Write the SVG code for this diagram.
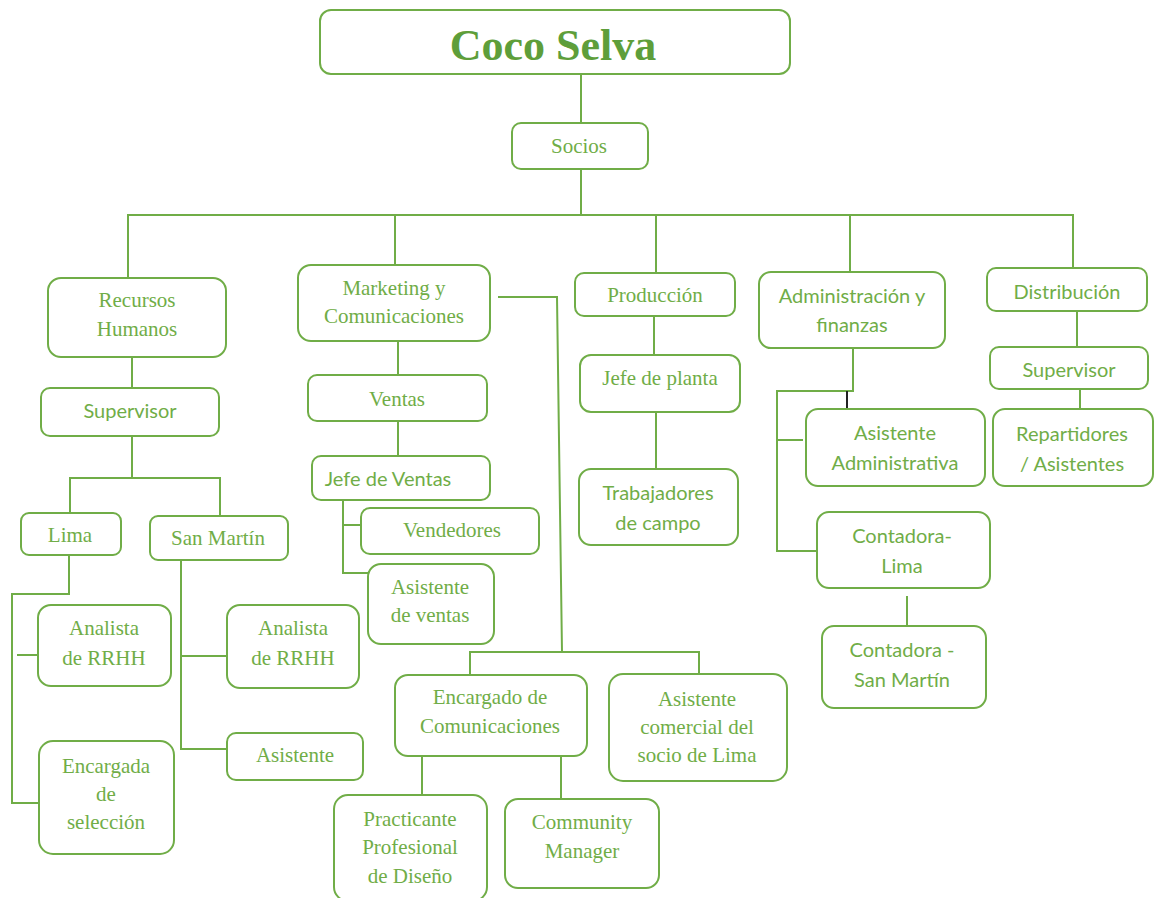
<svg xmlns="http://www.w3.org/2000/svg" width="1154" height="898" viewBox="0 0 1154 898">
<style>
rect{fill:#fff;stroke:#70AD47;stroke-width:2}
.c line,.c polyline{stroke:#70AD47;stroke-width:2;fill:none}
text{text-anchor:middle;fill:#70AD47}
.s{font-family:"Liberation Serif",serif;font-size:21px}
.a{font-family:Lato,"Liberation Sans",sans-serif;font-size:20px}
.t{font-family:"Liberation Serif",serif;font-size:44px;font-weight:bold;fill:#5E9E3A}
</style>
<rect x="0" y="0" width="1154" height="898" style="stroke:none"/>
<g class="c" id="connectors">
<line x1="581" y1="74" x2="581" y2="123"/>
<line x1="581" y1="169" x2="581" y2="215"/>
<line x1="127" y1="215" x2="1074" y2="215"/>
<line x1="128" y1="215" x2="128" y2="278"/>
<line x1="395" y1="215" x2="395" y2="265"/>
<line x1="656" y1="215" x2="656" y2="273"/>
<line x1="850" y1="215" x2="850" y2="272"/>
<line x1="1073" y1="215" x2="1073" y2="268"/>
<line x1="132" y1="357" x2="132" y2="388"/>
<line x1="132" y1="436" x2="132" y2="478"/>
<polyline points="70,513 70,478 220,478 220,516"/>
<polyline points="69,555 69,594 12,594 12,803 38,803"/>
<line x1="17" y1="655" x2="38" y2="655"/>
<polyline points="181,560 181,749 227,749"/>
<line x1="181" y1="656" x2="227" y2="656"/>
<line x1="398" y1="341" x2="398" y2="375"/>
<line x1="398" y1="421" x2="398" y2="456"/>
<polyline points="343,500 343,573 368,573"/>
<line x1="343" y1="525" x2="361" y2="525"/>
<polyline points="498,297 557,297 562,652"/>
<polyline points="470,675 470,652 699,652 699,674"/>
<line x1="422" y1="756" x2="422" y2="795"/>
<line x1="561" y1="756" x2="561" y2="799"/>
<line x1="654" y1="316" x2="654" y2="355"/>
<line x1="656" y1="412" x2="656" y2="469"/>
<polyline points="853,348 853,391 777,391 777,551 817,551"/>
<line x1="777" y1="440" x2="803" y2="440"/>
<line x1="907" y1="596" x2="907" y2="626"/>
<line x1="1077" y1="311" x2="1077" y2="347"/>
<line x1="1080" y1="389" x2="1080" y2="409"/>
<line x1="847" y1="391" x2="847" y2="416" style="stroke:#222"/>
</g>
<g id="coco-selva"><rect x="320" y="10" width="470" height="64" rx="11"/><text class="t" x="553" y="60">Coco Selva</text></g>
<g id="socios"><rect x="512" y="123" width="136" height="46" rx="9"/><text class="s" x="579" y="153">Socios</text></g>
<g id="rrhh"><rect x="48" y="278" width="178" height="79" rx="13"/><text class="s" x="137" y="307">Recursos</text><text class="s" x="137" y="336">Humanos</text></g>
<g id="marketing"><rect x="298" y="265" width="192" height="76" rx="13"/><text class="s" x="394" y="295">Marketing y</text><text class="s" x="394" y="323">Comunicaciones</text></g>
<g id="produccion"><rect x="575" y="273" width="160" height="43" rx="9"/><text class="s" x="655" y="302">Producción</text></g>
<g id="admin"><rect x="759" y="272" width="186" height="76" rx="12"/><text class="a" x="852" y="303">Administración y</text><text class="a" x="852" y="332">finanzas</text></g>
<g id="distribucion"><rect x="987" y="268" width="160" height="43" rx="9"/><text class="a" x="1067" y="299">Distribución</text></g>
<g id="supervisor-rrhh"><rect x="41" y="388" width="178" height="48" rx="9"/><text class="a" x="130" y="418">Supervisor</text></g>
<g id="lima"><rect x="21" y="513" width="100" height="42" rx="8"/><text class="s" x="70" y="542">Lima</text></g>
<g id="san-martin"><rect x="150" y="516" width="138" height="44" rx="8"/><text class="s" x="218" y="545">San Martín</text></g>
<g id="analista-1"><rect x="38" y="605" width="133" height="81" rx="13"/><text class="s" x="104" y="635">Analista</text><text class="s" x="104" y="665">de RRHH</text></g>
<g id="encargada"><rect x="39" y="741" width="135" height="113" rx="14"/><text class="s" x="106" y="773">Encargada</text><text class="s" x="106" y="801">de</text><text class="s" x="106" y="829">selección</text></g>
<g id="analista-2"><rect x="227" y="605" width="132" height="83" rx="13"/><text class="s" x="293" y="635">Analista</text><text class="s" x="293" y="665">de RRHH</text></g>
<g id="asistente"><rect x="227" y="733" width="136" height="47" rx="9"/><text class="s" x="295" y="762">Asistente</text></g>
<g id="ventas"><rect x="308" y="375" width="179" height="46" rx="9"/><text class="s" x="397" y="406">Ventas</text></g>
<g id="jefe-ventas"><rect x="312" y="456" width="178" height="44" rx="9"/><text class="a" x="388" y="486">Jefe de Ventas</text></g>
<g id="vendedores"><rect x="361" y="508" width="178" height="46" rx="9"/><text class="s" x="452" y="537">Vendedores</text></g>
<g id="asistente-ventas"><rect x="368" y="564" width="126" height="80" rx="13"/><text class="s" x="430" y="594">Asistente</text><text class="s" x="430" y="622">de ventas</text></g>
<g id="encargado-com"><rect x="395" y="675" width="192" height="81" rx="13"/><text class="s" x="490" y="704">Encargado de</text><text class="s" x="490" y="733">Comunicaciones</text></g>
<g id="asistente-comercial"><rect x="609" y="674" width="178" height="107" rx="14"/><text class="s" x="697" y="706">Asistente</text><text class="s" x="697" y="734">comercial del</text><text class="s" x="697" y="762">socio de Lima</text></g>
<g id="practicante"><rect x="334" y="795" width="153" height="106" rx="14"/><text class="s" x="410" y="826">Practicante</text><text class="s" x="410" y="854">Profesional</text><text class="s" x="410" y="883">de Diseño</text></g>
<g id="community"><rect x="505" y="799" width="154" height="89" rx="13"/><text class="s" x="582" y="829">Community</text><text class="s" x="582" y="858">Manager</text></g>
<g id="jefe-planta"><rect x="580" y="355" width="160" height="57" rx="11"/><text class="s" x="660" y="385">Jefe de planta</text></g>
<g id="trabajadores"><rect x="579" y="469" width="159" height="76" rx="12"/><text class="a" x="658" y="500">Trabajadores</text><text class="a" x="658" y="530">de campo</text></g>
<g id="asistente-admin"><rect x="806" y="409" width="179" height="77" rx="12"/><text class="a" x="895" y="440">Asistente</text><text class="a" x="895" y="470">Administrativa</text></g>
<g id="contadora-lima"><rect x="817" y="512" width="173" height="76" rx="12"/><text class="a" x="902" y="543">Contadora-</text><text class="a" x="902" y="573">Lima</text></g>
<g id="contadora-sm"><rect x="822" y="626" width="164" height="82" rx="12"/><text class="a" x="902" y="657">Contadora -</text><text class="a" x="902" y="687">San Martín</text></g>
<g id="supervisor-dist"><rect x="990" y="347" width="158" height="42" rx="9"/><text class="a" x="1069" y="377">Supervisor</text></g>
<g id="repartidores"><rect x="993" y="409" width="160" height="77" rx="12"/><text class="a" x="1072" y="441">Repartidores</text><text class="a" x="1072" y="471">/ Asistentes</text></g>
</svg>
